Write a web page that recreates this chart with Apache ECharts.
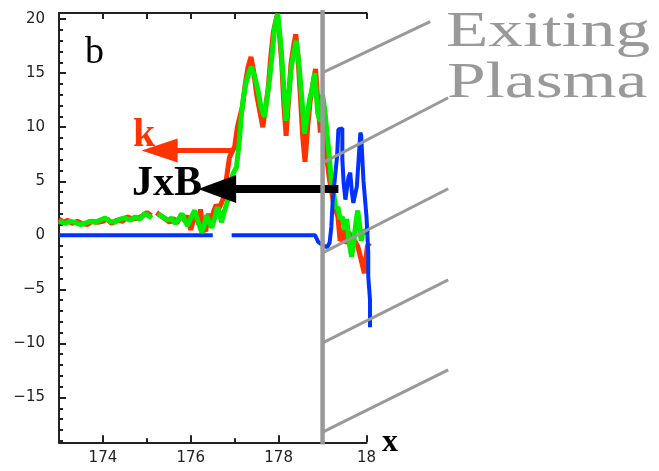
<!DOCTYPE html>
<html>
<head>
<meta charset="utf-8">
<script src="https://cdn.jsdelivr.net/npm/echarts@6/dist/echarts.min.js"></script>
<style>
  html, body { margin: 0; padding: 0; background: #fff; }
  #chart { width: 659px; height: 471px; }
</style>
</head>
<body>
<div id="chart"></div>
<script>
// 坐标轴范围与刻度
const xMin = 173, xMax = 180;
const yMin = -19.15, yMax = 20.57;
const xMajorTicks = [174, 176, 178, 180];
const xMinorTicks = [175, 177, 179];
const xTopTicks = [174, 175, 176, 177, 178, 179, 180];
const yMajorTicks = [-15, -10, -5, 0, 5, 10, 15, 20];
const yMinorTicks = [-19, -18, -17, -16, -14, -13, -12, -11, -9, -8, -7, -6, -4, -3, -2, -1,
  1, 2, 3, 4, 6, 7, 8, 9, 11, 12, 13, 14, 16, 17, 18, 19];

// 红线 (null = 断开)
const redPts = [
  [173.00, 1.5], [173.10, 1.2], [173.20, 1.4], [173.30, 1.1], [173.42, 1.3], [173.52, 1.1],
  [173.65, 1.0], [173.75, 1.3], [173.88, 1.2], [174.00, 1.3], [174.10, 1.5], [174.20, 1.1],
  [174.32, 1.4], [174.45, 1.3], [174.55, 1.7], [174.68, 1.5], [174.80, 1.6], [174.90, 1.8],
  [175.00, 2.1], [175.10, 1.8], null,
  [175.22, 2.1], [175.32, 1.8], [175.42, 1.5], [175.52, 1.2], [175.60, 1.6], [175.68, 1.1],
  [175.78, 1.9], [175.85, 1.4], [175.92, 1.8], [176.00, 0.5], [176.06, 1.5], [176.12, 2.0],
  [176.18, 1.0], [176.22, 2.4], [176.28, 0.6], [176.34, 0.4], [176.40, 2.0], [176.46, 1.3],
  [176.52, 2.2], [176.58, 2.8], [176.64, 2.5], [176.70, 3.0], [176.76, 3.6], [176.82, 5.5],
  [176.88, 7.2], [176.95, 7.8], [177.00, 8.2], [177.06, 10.0], [177.12, 11.0], [177.18, 12.0],
  [177.24, 14.0], [177.30, 15.5], [177.37, 16.5], [177.43, 15.2], [177.50, 13.0], [177.57, 11.5],
  [177.64, 10.0], [177.70, 11.8], [177.76, 13.5], [177.82, 16.5], [177.88, 18.8], [177.96, 20.3],
  [178.02, 18.5], [178.07, 16.0], [178.12, 12.0], [178.17, 9.2], [178.22, 12.2], [178.28, 15.8],
  [178.34, 17.5], [178.39, 18.6], [178.44, 16.5], [178.50, 12.5], [178.55, 9.0], [178.60, 6.8],
  [178.66, 10.0], [178.72, 12.5], [178.78, 14.0], [178.84, 15.4], [178.90, 12.0], [178.95, 9.5],
  [179.00, 12.5], [179.05, 8.8], [179.10, 7.0], [179.16, 5.1], [179.25, 3.0], [179.35, 1.7],
  [179.40, -0.5], [179.45, -0.2], [179.50, 0.8], [179.55, -0.8], [179.60, 0.3], [179.66, -0.5],
  [179.73, -0.5], [179.80, -1.0], [179.88, -2.3], [179.95, -3.5], [180.02, -1.0], [180.07, -0.7]
];

// 绿线
const greenPts = [
  [173.00, 1.3], [173.14, 1.1], [173.25, 1.3], [173.36, 1.2], [173.48, 1.0], [173.59, 1.1],
  [173.70, 1.3], [173.82, 1.2], [173.93, 1.4], [174.05, 1.6], [174.16, 1.3], [174.27, 1.2],
  [174.38, 1.5], [174.50, 1.6], [174.62, 1.4], [174.73, 1.7], [174.84, 1.5], [174.95, 2.0],
  [175.05, 1.8], [175.11, 1.6], null,
  [175.25, 2.0], [175.36, 1.7], [175.48, 1.4], [175.56, 1.6], [175.64, 1.1], [175.72, 1.5],
  [175.80, 2.0], [175.87, 1.3], [175.93, 0.9], [176.00, 1.6], [176.09, 2.3], [176.17, 1.2],
  [176.25, 0.3], [176.31, 1.0], [176.36, 1.85], [176.42, 1.2], [176.48, 0.7], [176.55, 1.7],
  [176.61, 2.6], [176.66, 2.0], [176.70, 1.2], [176.77, 2.3], [176.84, 3.2], [176.90, 4.5],
  [176.96, 5.7], [177.04, 6.3], [177.10, 8.5], [177.15, 11.0], [177.19, 12.5], [177.25, 14.0],
  [177.32, 15.0], [177.38, 15.6], [177.45, 14.8], [177.53, 13.4], [177.60, 11.8], [177.68, 10.95],
  [177.74, 12.8], [177.80, 14.7], [177.86, 17.0], [177.91, 19.3], [177.98, 20.5], [178.03, 18.5],
  [178.06, 17.1], [178.12, 13.5], [178.17, 10.6], [178.23, 13.0], [178.29, 15.6], [178.35, 17.0],
  [178.40, 18.0], [178.46, 16.0], [178.52, 13.1], [178.59, 9.4], [178.65, 11.0], [178.70, 12.5],
  [178.76, 13.5], [178.82, 15.0], [178.89, 11.3], [178.95, 10.5], [179.00, 13.0], [179.05, 11.6],
  [179.10, 9.5], [179.16, 7.0], [179.20, 5.0], [179.25, 4.0], [179.30, 2.5], [179.35, 2.6],
  [179.40, 1.5], [179.45, 1.7], [179.50, 0.5], [179.55, 1.5], [179.60, -0.5], [179.66, -2.0],
  [179.70, -1.0], [179.73, 0.2], [179.77, 1.5], [179.80, 2.3], [179.84, 1.0], [179.88, -0.5],
  [179.93, 0.5], [179.99, 0.2], [180.04, 0.5]
];

// 蓝线
const bluePts = [
  [173.00, 0], [176.50, 0], null,
  [176.93, 0], [178.83, 0], [178.90, -0.6], [179.00, -0.9], [179.10, -1.1], [179.16, -0.7],
  [179.20, 0.8], [179.23, 3.2], [179.33, 7.3], [179.36, 9.8], [179.45, 9.9], [179.45, 7.0],
  [179.48, 4.8], [179.52, 3.3], [179.59, 5.4], [179.63, 5.8], [179.67, 3.9], [179.70, 3.0],
  [179.78, 4.5], [179.86, 9.5], [179.88, 9.2], [179.93, 5.1], [180.00, 1.7], [180.04, -1.6],
  [180.04, -3.8], [180.08, -6.0], [180.08, -8.5]
];

// 箭头: [起点x, 箭头中心x, y]
const kArrow = [176.96, 175.29, 7.84];
const jxbArrow = [179.36, 176.60, 4.28];

// 灰色 "Exiting Plasma" 线
const wallX = 179;
const wallY = [-19.35, 20.85];
const plasmaY0 = [15.05, 6.71, -1.62, -9.95, -18.2];
const plasmaX1 = [181.45, 181.86, 181.86, 181.86, 181.86];
const plasmaY1 = [19.77, 12.73, 4.31, -4.12, -12.45];

// 注释层用的扩展坐标范围 (与主坐标同比例)
const x2Min = 173, x2Max = 182;
const y2Min = -20, y2Max = 21;

const RED = '#ff3300', GREEN = '#00ee00', BLUE = '#0033ff', GRAY = '#999999';
const serif = '"Liberation Serif", "DejaVu Serif", serif';

// 主网格像素
const G = { left: 59, top: 13, right: 292.5, bottom: 28.7 };
const pxPerX = (659 - G.left - G.right) / (xMax - xMin);
const pxPerY = (471 - G.top - G.bottom) / (yMax - yMin);

const toData = pts => pts.map(p => p || ['-', '-']);

const chart = echarts.init(document.getElementById('chart'));

function arrowSeries(arr, color, width, size) {
  return {
    type: 'line', xAxisIndex: 0, yAxisIndex: 0, silent: true,
    lineStyle: { color, width },
    itemStyle: { color },
    data: [
      { value: [arr[0], arr[2]], symbol: 'none' },
      { value: [arr[1], arr[2]], symbol: 'triangle', symbolSize: size, symbolRotate: 90 }
    ]
  };
}

// 曲线放在扩展网格里, 右端不被裁掉
function curveSeries(pts, color, width) {
  return {
    type: 'line', xAxisIndex: 3, yAxisIndex: 2, showSymbol: false, symbol: 'none', silent: true,
    lineStyle: { color, width }, data: toData(pts)
  };
}

const plasmaSeries = plasmaY0.map((y0, i) => ({
  type: 'line', xAxisIndex: 3, yAxisIndex: 2, silent: true,
  showSymbol: false, symbol: 'none',
  lineStyle: { color: GRAY, width: 3 },
  data: [[wallX, y0], [plasmaX1[i], plasmaY1[i]]]
}));

const axisLabelFont = { fontFamily: '"DejaVu Sans", sans-serif', fontSize: 15, color: '#222' };
const tickStyle = { color: '#222', width: 2 };
const hidden = { axisLine: { show: false }, axisTick: { show: false }, axisLabel: { show: false }, splitLine: { show: false } };

chart.setOption({
  animation: false,
  grid: [
    { left: G.left, right: G.right, top: G.top, bottom: G.bottom, containLabel: false, outerBoundsMode: 'none' },
    { left: G.left, containLabel: false, outerBoundsMode: 'none',
      right: 659 - G.left - (x2Max - x2Min) * pxPerX,
      top: G.top - (y2Max - yMax) * pxPerY,
      bottom: G.bottom - (yMin - y2Min) * pxPerY }
  ],
  xAxis: [
    {
      type: 'value', gridIndex: 0, position: 'bottom', min: xMin, max: xMax,
      axisLine: { show: true, onZero: false, lineStyle: tickStyle },
      axisTick: { show: true, inside: true, length: 7, customValues: xMajorTicks, lineStyle: tickStyle },
      axisLabel: { show: true, margin: 8, customValues: xMajorTicks, ...axisLabelFont,
        formatter: v => v === 180 ? '18' : String(v) },
      splitLine: { show: false },
      name: 'x', nameLocation: 'end', nameGap: 10,
      nameTextStyle: { fontFamily: serif, fontWeight: 'bold', fontSize: 32, color: '#000', padding: [0, 0, 22, 0] }
    },
    {
      type: 'value', gridIndex: 0, position: 'bottom', min: xMin, max: xMax,
      axisLine: { show: false, onZero: false },
      axisTick: { show: true, inside: true, length: 4, customValues: xMinorTicks, lineStyle: tickStyle },
      axisLabel: { show: false }, splitLine: { show: false }
    },
    {
      type: 'value', gridIndex: 0, position: 'top', min: xMin, max: xMax,
      axisLine: { show: true, onZero: false, lineStyle: tickStyle },
      axisTick: { show: true, inside: true, length: 6, customValues: xTopTicks, lineStyle: tickStyle },
      axisLabel: { show: false }, splitLine: { show: false }
    },
    { type: 'value', gridIndex: 1, position: 'bottom', min: x2Min, max: x2Max, ...hidden }
  ],
  yAxis: [
    {
      type: 'value', gridIndex: 0, position: 'left', offset: 0, min: yMin, max: yMax,
      axisLine: { show: true, onZero: false, lineStyle: tickStyle },
      axisTick: { show: true, inside: true, length: 7, customValues: yMajorTicks, lineStyle: tickStyle },
      axisLabel: { show: true, margin: 14, customValues: yMajorTicks, ...axisLabelFont,
        formatter: v => String(v).replace('-', '\u2212') },
      splitLine: { show: false }
    },
    {
      type: 'value', gridIndex: 0, position: 'left', offset: 0, min: yMin, max: yMax,
      axisLine: { show: false, onZero: false },
      axisTick: { show: true, inside: true, length: 4, customValues: yMinorTicks, lineStyle: tickStyle },
      axisLabel: { show: false }, splitLine: { show: false }
    },
    { type: 'value', gridIndex: 1, position: 'left', min: y2Min, max: y2Max, ...hidden }
  ],
  series: [
    curveSeries(redPts, RED, 5),
    curveSeries(greenPts, GREEN, 5),
    curveSeries(bluePts, BLUE, 4),
    arrowSeries(kArrow, RED, 5, [24, 36]),
    arrowSeries(jxbArrow, '#000', 8, [28, 38]),
    { type: 'line', xAxisIndex: 3, yAxisIndex: 2, silent: true, showSymbol: false, symbol: 'none',
      lineStyle: { color: GRAY, width: 4.5 }, data: [[wallX, wallY[0]], [wallX, wallY[1]]] },
    ...plasmaSeries
  ],
  graphic: [
    { type: 'text', x: 85, y: 53.5, silent: true,
      style: { text: 'b', font: '38px ' + serif, fill: '#000', textVerticalAlign: 'middle' } },
    { type: 'text', x: 133, y: 135.5, silent: true,
      style: { text: 'k', font: 'bold 40px ' + serif, fill: RED, textVerticalAlign: 'middle' } },
    { type: 'text', x: 132, y: 184.5, silent: true,
      style: { text: 'JxB', font: 'bold 42px ' + serif, fill: '#000', textVerticalAlign: 'middle' } },
    { type: 'text', x: 446, y: 33, scaleX: 1.36, silent: true,
      style: { text: 'Exiting', font: '51px ' + serif, fill: GRAY, textVerticalAlign: 'middle' } },
    { type: 'text', x: 447, y: 83.5, scaleX: 1.36, silent: true,
      style: { text: 'Plasma', font: '51px ' + serif, fill: GRAY, textVerticalAlign: 'middle' } }
  ]
});
</script>
</body>
</html>
